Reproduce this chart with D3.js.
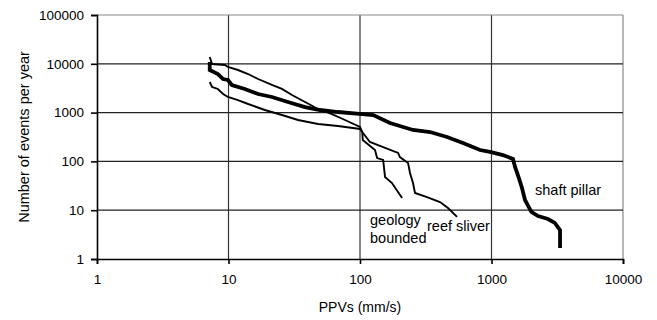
<!DOCTYPE html>
<html>
<head>
<meta charset="utf-8">
<script src="https://cdn.jsdelivr.net/npm/d3@7"></script>
<style>
  body { margin: 0; background: #fff; }
  text { font-family: "Liberation Sans", Arial, sans-serif; fill: #000; }
</style>
</head>
<body>
<div id="chart-area"></div>
<script>
const width = 657,
  height = 320;

const xTicks = [1, 10, 100, 1000, 10000];
const yTicks = [1, 10, 100, 1000, 10000, 100000];

// [PPV mm/s, events per year]
const shaftPillar = [
  [7.2, 10900], [7.2, 7460], [8.3, 6180], [9.1, 4880], [9.9, 4660], [10.6, 3680],
  [13.3, 3050], [16.8, 2400], [21.4, 2090], [28.3, 1650], [38.2, 1300], [49.6, 1130],
  [68, 1028], [104, 935], [126, 893], [169, 612], [253, 440], [341, 400], [459, 316],
  [607, 238], [818, 171], [974, 156], [1222, 135], [1457, 112], [1510, 77], [1614, 46],
  [1706, 28.5], [1798, 16.2], [1923, 11.6], [2010, 9.2], [2258, 7.6], [2690, 6.6],
  [3030, 5.5], [3321, 3.9], [3321, 1.68]
];
const reefSliver = [
  [7.2, 13800], [7.5, 9900], [9.4, 9450], [9.9, 8600], [11.8, 7460], [14.1, 6180],
  [16.8, 4880], [21.4, 3680], [25.5, 3050], [30.4, 2290], [38.2, 1650], [48, 1185],
  [61.2, 935], [76.9, 705], [100, 507], [104, 400], [119, 250], [150, 197], [195, 149],
  [201, 123], [232, 93], [240, 58], [253, 36], [262, 22.5], [323, 18.6], [406, 14.7],
  [467, 11.1], [547, 7.3]
];
const geologyBounded = [
  [7.2, 4240], [7.5, 3350], [8.3, 3050], [9.1, 2400], [9.9, 2090], [11.8, 1810],
  [14.1, 1500], [18.9, 1130], [25.5, 893], [33.8, 705], [48, 584], [68, 531],
  [100, 461], [104, 400], [105, 275], [130, 171], [135, 117], [150, 107], [155, 48],
  [175, 36], [209, 17.8]
];

const margin = { top: 15, right: 34, bottom: 61, left: 97 };

const x = d3.scaleLog()
  .domain([1, 10000])
  .range([margin.left, width - margin.right]);

const y = d3.scaleLog()
  .domain([1, 100000])
  .range([height - margin.bottom, margin.top]);

const svg = d3.select("#chart-area").append("svg")
  .attr("width", width)
  .attr("height", height);

// grid
svg.append("g")
  .selectAll("line.gx")
  .data(xTicks.slice(1))
  .join("line")
  .attr("x1", d => x(d)).attr("x2", d => x(d))
  .attr("y1", y(100000)).attr("y2", y(1))
  .attr("stroke", d => d === 10000 ? "#888" : "#333")
  .attr("stroke-width", 1.2);

svg.append("g")
  .selectAll("line.gy")
  .data(yTicks.slice(1))
  .join("line")
  .attr("x1", x(1)).attr("x2", x(10000))
  .attr("y1", d => y(d)).attr("y2", d => y(d))
  .attr("stroke", d => d === 100000 ? "#888" : "#222")
  .attr("stroke-width", 1.2);

// axes
const xAxis = svg.append("g")
  .attr("transform", `translate(0,${y(1)})`)
  .call(d3.axisBottom(x).tickValues(xTicks).tickFormat(d3.format("d")).tickSizeOuter(0).tickSize(5).tickPadding(10));

const yAxis = svg.append("g")
  .attr("transform", `translate(${x(1)},0)`)
  .call(d3.axisLeft(y).tickValues(yTicks).tickFormat(d3.format("d")).tickSizeOuter(0).tickSize(6).tickPadding(7));

[xAxis, yAxis].forEach(a => {
  a.selectAll("path, line").attr("stroke", "#000").attr("stroke-width", 1.6);
  a.selectAll("text").attr("font-size", 13.5).attr("font-family", "Liberation Sans, Arial, sans-serif").attr("fill", "#000");
});

// lines
const line = d3.line()
  .x(d => x(d[0]))
  .y(d => y(d[1]));

svg.append("path")
  .datum(reefSliver)
  .attr("fill", "none").attr("stroke", "#000").attr("stroke-width", 1.9)
  .attr("d", line);

svg.append("path")
  .datum(geologyBounded)
  .attr("fill", "none").attr("stroke", "#000").attr("stroke-width", 1.9)
  .attr("d", line);

svg.append("path")
  .datum(shaftPillar)
  .attr("fill", "none").attr("stroke", "#000").attr("stroke-width", 3.8)
  .attr("d", line);

// labels
const labels = [
  { t: "shaft pillar", px: 535, py: 195 },
  { t: "geology", px: 370, py: 225 },
  { t: "bounded", px: 370, py: 243 },
  { t: "reef sliver", px: 427, py: 231 }
];
svg.append("g").selectAll("text")
  .data(labels)
  .join("text")
  .attr("x", d => d.px).attr("y", d => d.py)
  .attr("font-size", 14.5)
  .text(d => d.t);

svg.append("text")
  .attr("x", (x(1) + x(10000)) / 2)
  .attr("y", 312)
  .attr("text-anchor", "middle")
  .attr("font-size", 14)
  .text("PPVs (mm/s)");

svg.append("text")
  .attr("transform", `translate(29,${(y(1) + y(100000)) / 2}) rotate(-90)`)
  .attr("text-anchor", "middle")
  .attr("font-size", 14.5)
  .text("Number of events per year");
</script>
</body>
</html>
